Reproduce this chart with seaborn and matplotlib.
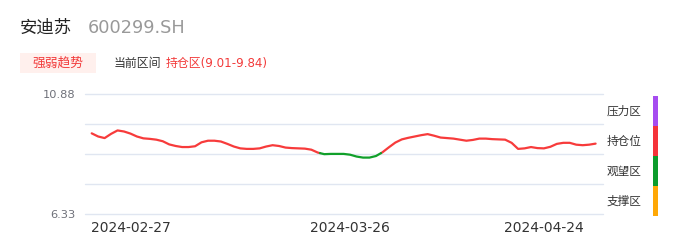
import numpy as np
import pandas as pd
import matplotlib
matplotlib.use("Agg")
import matplotlib.pyplot as plt
import seaborn as sns
from matplotlib.patches import FancyBboxPatch

# ---------------- data ----------------
stock_name = "安迪苏"
stock_code = "600299.SH"
badge_text = "强弱趋势"
range_label = "当前区间"
range_value = "持仓区(9.01-9.84)"

prices = [9.40, 9.28, 9.22, 9.38, 9.51, 9.47, 9.39, 9.28, 9.21, 9.19,
          9.16, 9.10, 8.98, 8.92, 8.88, 8.88, 8.91, 9.06, 9.12, 9.12,
          9.09, 9.00, 8.90, 8.83, 8.81, 8.81, 8.83, 8.90, 8.95, 8.92,
          8.86, 8.84, 8.83, 8.82, 8.78, 8.67, 8.61, 8.62, 8.62, 8.62,
          8.59, 8.52, 8.48, 8.48, 8.54, 8.68, 8.87, 9.05, 9.17, 9.23,
          9.28, 9.33, 9.37, 9.31, 9.24, 9.22, 9.20, 9.16, 9.12, 9.15,
          9.20, 9.20, 9.18, 9.17, 9.16, 9.04, 8.81, 8.83, 8.88, 8.84,
          8.83, 8.89, 9.00, 9.04, 9.04, 8.97, 8.95, 8.97, 9.01]
date_labels = ["2024-02-27", "2024-03-26", "2024-04-24"]
date_label_index = [6, 40, 70]
y_min, y_max = 6.33, 10.88
watch_threshold = 8.65

zone_names = ["压力区", "持仓位", "观望区", "支撑区"]
zone_colors = ["#a64cf0", "#f5333a", "#0c9c2c", "#ffa806"]

RED = "#f73b3b"
GREEN = "#11a02a"

# ---------------- figure ----------------
sns.set_theme(style="white")
plt.rcParams["font.family"] = ["DejaVu Sans", "Noto Sans CJK SC"]

W, H = 686, 247
fig = plt.figure(figsize=(W / 100, H / 100), dpi=100)

def fx(px):
    return px / W

def fy(py):
    return 1 - py / H

ax_left, ax_right, ax_top, ax_bottom = 85, 603, 94.3, 214.3
ax = fig.add_axes([fx(ax_left), fy(ax_bottom), fx(ax_right - ax_left),
                   (ax_bottom - ax_top) / H])

n = len(prices)
x = np.arange(n, dtype=float)
y = np.array(prices, dtype=float)

# split line into red / green runs (adding crossing points for clean joins)
xs, ys = [x[0]], [y[0]]
for i in range(1, n):
    y0, y1 = y[i - 1], y[i]
    if (y0 - watch_threshold) * (y1 - watch_threshold) < 0:
        t = (watch_threshold - y0) / (y1 - y0)
        xs.append(x[i - 1] + t)
        ys.append(watch_threshold)
    xs.append(x[i])
    ys.append(y1)
xs, ys = np.array(xs), np.array(ys)
below = ys <= watch_threshold + 1e-9
above = ys >= watch_threshold - 1e-9

def runs(mask):
    out, start = [], None
    for i, m in enumerate(mask):
        if m and start is None:
            start = i
        if not m and start is not None:
            out.append((start, i))
            start = None
    if start is not None:
        out.append((start, len(mask)))
    return out

for mask, col in ((above, RED), (below, GREEN)):
    for a, b in runs(mask):
        if b - a < 2:
            continue
        seg = pd.DataFrame({"x": xs[a:b], "y": ys[a:b]})
        sns.lineplot(data=seg, x="x", y="y", ax=ax, color=col, lw=1.6,
                     sort=False, estimator=None)

px_per_idx = (595.6 - 91.7) / (n - 1)
ax.set_xlim(-(91.7 - ax_left) / px_per_idx, (n - 1) + (ax_right - 595.6) / px_per_idx)
ax.set_ylim(y_min, y_max)

grid_vals = np.linspace(y_min, y_max, 5)
ax.set_yticks(grid_vals)
ax.set_yticklabels([f"{y_min:.2f}", "", "", "", f"{y_max:.2f}"])
for g in grid_vals:
    ax.axhline(g, color="#e0e6f1", lw=1, zorder=0, clip_on=False)
ax.set_xticks(date_label_index)
ax.set_xticklabels(date_labels)
ax.tick_params(axis="y", length=0, pad=7, labelsize=8.2, labelcolor="#6e7079")
ax.tick_params(axis="x", length=0, pad=5, labelsize=10, labelcolor="#333333")
ax.set_xlabel("")
ax.set_ylabel("")
for s in ax.spines.values():
    s.set_visible(False)
ax.grid(False)
ax.set_facecolor("none")

# ---------------- header texts ----------------
fig.text(fx(20), fy(28), stock_name, fontsize=12.5, color="#222222",
         va="center", ha="left", fontweight="medium")
fig.text(fx(88), fy(28), stock_code, fontsize=12.8, color="#999999",
         va="center", ha="left")

badge = FancyBboxPatch((fx(20), fy(73.5)), fx(76), (73.5 - 53) / H,
                       boxstyle="square,pad=0", transform=fig.transFigure,
                       facecolor="#fff0ed", edgecolor="none")
fig.patches.append(badge)
fig.text(fx(58), fy(63.5), badge_text, fontsize=9.2, color="#f23a3a",
         va="center", ha="center")
fig.text(fx(114), fy(63.5), range_label, fontsize=8.6, color="#333333",
         va="center", ha="left")
fig.text(fx(165.5), fy(63.5), range_value, fontsize=8.6, color="#f23a3a",
         va="center", ha="left")

# ---------------- zone legend ----------------
bar_top, bar_h = 96, 30
for i, (name, col) in enumerate(zip(zone_names, zone_colors)):
    top = bar_top + i * bar_h
    fig.text(fx(607), fy(top + 15.5), name, fontsize=8.4, color="#333333",
             va="center", ha="left")
    rect = FancyBboxPatch((fx(653), fy(top + bar_h)), fx(5), bar_h / H,
                          boxstyle="square,pad=0", transform=fig.transFigure,
                          facecolor=col, edgecolor="none")
    fig.patches.append(rect)

fig.savefig("out.png", dpi=100, facecolor="white")
